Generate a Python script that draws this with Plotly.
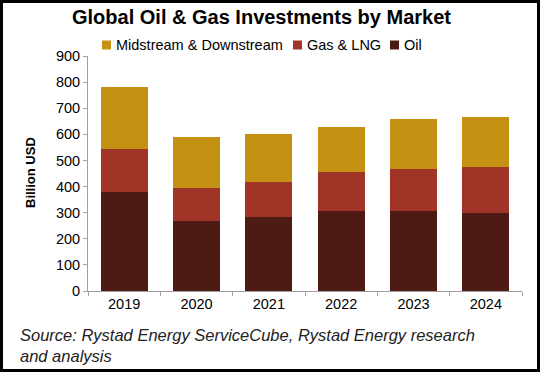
import plotly.graph_objects as go

years = ["2019", "2020", "2021", "2022", "2023", "2024"]
oil = [380, 270, 285, 305, 305, 300]
gas_lng = [165, 126, 131, 151, 163, 173]
midstream = [235, 194, 184, 172, 190, 193]
y_ticks = [0, 100, 200, 300, 400, 500, 600, 700, 800, 900]

series_names = ["Midstream & Downstream", "Gas & LNG", "Oil"]
series_colors = {"Oil": "#4E1A14", "Gas & LNG": "#A03426", "Midstream & Downstream": "#C49112"}

W, H = 540, 372
L, R, T, B = 88, 18, 56, 81
pw = W - L - R
ph = H - T - B

def px_x(px):
    return (px - L) / pw

def px_y(py):
    return (H - B - py) / ph

font = "Liberation Sans, Arial, sans-serif"

fig = go.Figure()
fig.add_trace(go.Bar(x=years, y=oil, name="Oil", marker_color=series_colors["Oil"]))
fig.add_trace(go.Bar(x=years, y=gas_lng, name="Gas & LNG", marker_color=series_colors["Gas & LNG"]))
fig.add_trace(go.Bar(x=years, y=midstream, name="Midstream & Downstream",
                     marker_color=series_colors["Midstream & Downstream"]))
fig.update_traces(marker_line_width=0, hoverinfo="skip")

fig.update_layout(
    width=W, height=H,
    margin=dict(l=L, r=R, t=T, b=B),
    barmode="stack",
    bargap=0.35,
    plot_bgcolor="white",
    paper_bgcolor="white",
    font=dict(family=font, size=14, color="black"),
    title=dict(text="<b>Global Oil & Gas Investments by Market</b>",
               x=261.5 / W, xref="container", xanchor="center", y=1 - 16.5 / H, yanchor="middle",
               font=dict(size=20, family=font, color="black")),
    showlegend=False,
    xaxis=dict(showline=True, linecolor="#A0A0A0", linewidth=1,
               ticks="outside", tickson="boundaries", ticklen=4, tickcolor="#A0A0A0",
               tickfont=dict(size=14.5, family=font), showgrid=False),
    yaxis=dict(range=[0, 900], tickvals=y_ticks, showline=True, linecolor="#A0A0A0", linewidth=1,
               ticks="outside", ticklen=4, tickcolor="#A0A0A0", showgrid=False, zeroline=False,
               tickfont=dict(size=14.5, family=font)),
)

# manual legend
legend_pos = {"Midstream & Downstream": 102, "Gas & LNG": 293, "Oil": 390}
for name in series_names:
    x0 = legend_pos[name]
    fig.add_shape(type="rect", xref="paper", yref="paper",
                  x0=px_x(x0), x1=px_x(x0 + 9), y0=px_y(49.5), y1=px_y(40.5),
                  fillcolor=series_colors[name], line=dict(width=0))
    fig.add_annotation(text=name, xref="paper", yref="paper", x=px_x(x0 + 12), y=px_y(45),
                       xanchor="left", yanchor="middle", showarrow=False,
                       font=dict(size=14.5, family=font, color="black"))

fig.add_annotation(text="<b>Billion USD</b>", textangle=-90, xref="paper", yref="paper",
                   x=px_x(30), y=px_y(173), xanchor="center", yanchor="middle",
                   showarrow=False, font=dict(size=13, family=font, color="black"))

fig.add_annotation(text="<i>Source: Rystad Energy ServiceCube, Rystad Energy research<br>and analysis</i>",
                   xref="paper", yref="paper", x=px_x(18), y=px_y(324), xanchor="left", yanchor="top",
                   align="left", showarrow=False, font=dict(size=16.5, family=font, color="#222222"))

fig.add_shape(type="rect", xref="paper", yref="paper",
              x0=px_x(1.5), x1=px_x(W - 1.5), y0=px_y(H - 1.5), y1=px_y(1.5),
              line=dict(color="black", width=3), fillcolor="rgba(0,0,0,0)", layer="above")

fig.write_html("out.html", config={"displayModeBar": False},
               post_script="document.body.style.margin='0';document.body.style.padding='0';")
